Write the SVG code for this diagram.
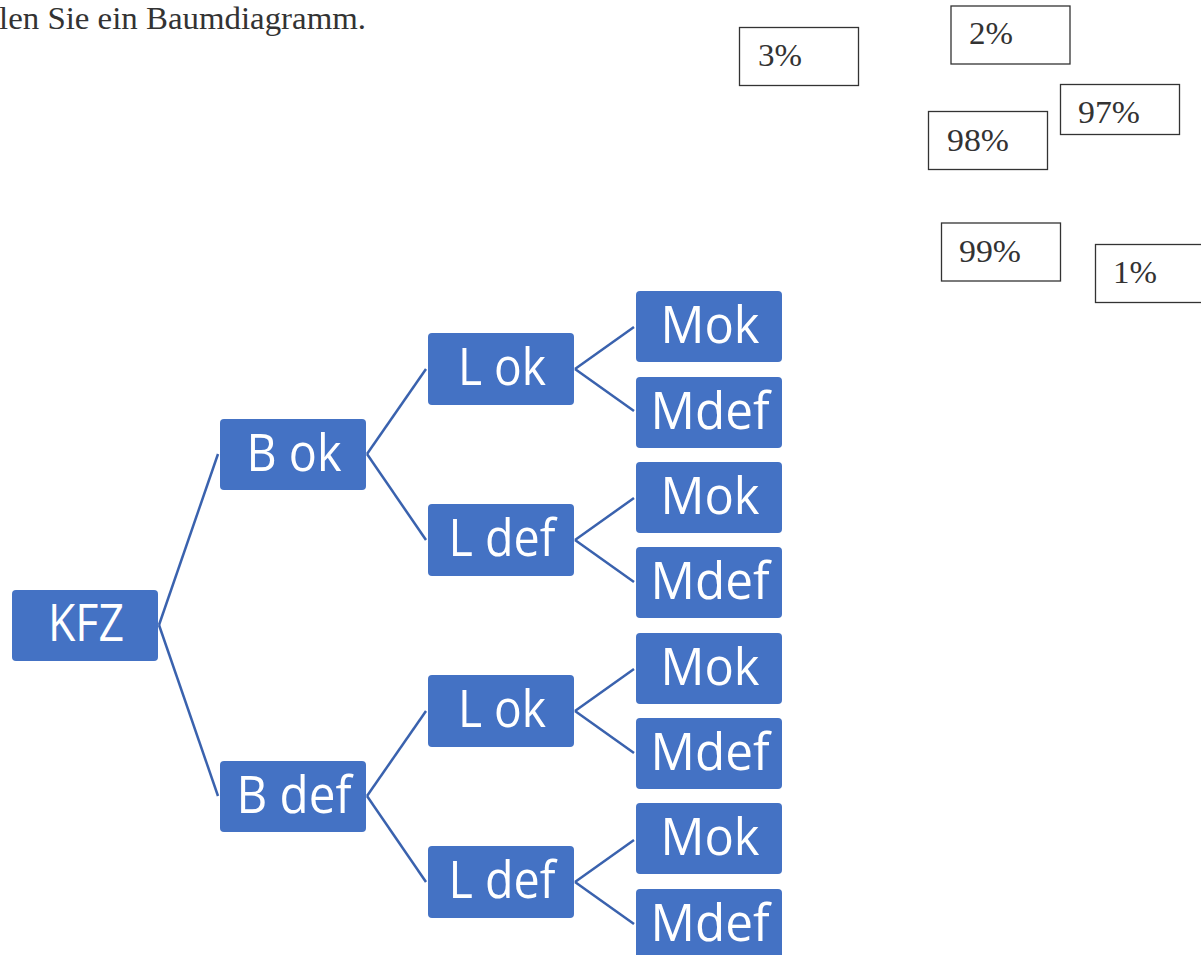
<svg xmlns="http://www.w3.org/2000/svg" width="1201" height="955" viewBox="0 0 1201 955">
<style>
.n rect{fill:#4472C4;}
.n text{fill:#fff;font-family:"Open Sans",sans-serif;font-size:51px;text-anchor:middle;}
.p rect{fill:#fff;stroke:#333;stroke-width:1.3;}
.p text{fill:#333;font-family:"Liberation Serif",serif;font-size:32px;}
.c line{stroke:#3A62AE;stroke-width:2.5;fill:none;}
</style>
<rect width="1201" height="955" fill="#fff"/>
<text x="-1" y="29" font-family="Liberation Serif, serif" font-size="32" fill="#333" textLength="367" lengthAdjust="spacingAndGlyphs">len Sie ein Baumdiagramm.</text>
<g id="pct3" class="p"><rect x="739.5" y="27.5" width="119" height="58"/><text x="758" y="66" textLength="44" lengthAdjust="spacingAndGlyphs">3%</text></g>
<g id="pct2" class="p"><rect x="951" y="6" width="119" height="58"/><text x="969" y="44" textLength="44" lengthAdjust="spacingAndGlyphs">2%</text></g>
<g id="pct97" class="p"><rect x="1060.5" y="84.5" width="119" height="50"/><text x="1078" y="123" textLength="62" lengthAdjust="spacingAndGlyphs">97%</text></g>
<g id="pct98" class="p"><rect x="928.5" y="111.5" width="119" height="58"/><text x="947" y="151" textLength="62" lengthAdjust="spacingAndGlyphs">98%</text></g>
<g id="pct99" class="p"><rect x="941.5" y="223" width="119" height="58"/><text x="959" y="262" textLength="62" lengthAdjust="spacingAndGlyphs">99%</text></g>
<g id="pct1" class="p"><rect x="1095.5" y="244.5" width="119" height="58"/><text x="1113" y="283" textLength="44" lengthAdjust="spacingAndGlyphs">1%</text></g>
<g id="connectors" class="c">
<line x1="159" y1="625" x2="218" y2="454"/>
<line x1="159" y1="625" x2="218" y2="796"/>
<line x1="367" y1="454" x2="426" y2="369"/>
<line x1="367" y1="454" x2="426" y2="540"/>
<line x1="367" y1="796" x2="426" y2="711"/>
<line x1="367" y1="796" x2="426" y2="882"/>
<line x1="575" y1="369" x2="634" y2="327"/>
<line x1="575" y1="369" x2="634" y2="411"/>
<line x1="575" y1="540" x2="634" y2="498"/>
<line x1="575" y1="540" x2="634" y2="582"/>
<line x1="575" y1="711" x2="634" y2="669"/>
<line x1="575" y1="711" x2="634" y2="753"/>
<line x1="575" y1="882" x2="634" y2="840"/>
<line x1="575" y1="882" x2="634" y2="924"/>
</g>
<g id="kfz" class="n"><rect x="12" y="590" width="146" height="71" rx="4"/><text x="86" y="641" textLength="76" lengthAdjust="spacingAndGlyphs">KFZ</text></g>
<g id="bok" class="n"><rect x="220" y="419" width="146" height="71" rx="4"/><text x="294" y="471" textLength="95" lengthAdjust="spacingAndGlyphs">B ok</text></g>
<g id="bdef" class="n"><rect x="220" y="761" width="146" height="71" rx="4"/><text x="294" y="813" textLength="115" lengthAdjust="spacingAndGlyphs">B def</text></g>
<g id="lok1" class="n"><rect x="428" y="333" width="146" height="72" rx="4"/><text x="502" y="385" textLength="88" lengthAdjust="spacingAndGlyphs">L ok</text></g>
<g id="ldef1" class="n"><rect x="428" y="504" width="146" height="72" rx="4"/><text x="502" y="556" textLength="107" lengthAdjust="spacingAndGlyphs">L def</text></g>
<g id="lok2" class="n"><rect x="428" y="675" width="146" height="72" rx="4"/><text x="502" y="727" textLength="88" lengthAdjust="spacingAndGlyphs">L ok</text></g>
<g id="ldef2" class="n"><rect x="428" y="846" width="146" height="72" rx="4"/><text x="502" y="898" textLength="107" lengthAdjust="spacingAndGlyphs">L def</text></g>
<g id="mok1" class="n"><rect x="636" y="291" width="146" height="71" rx="4"/><text x="710" y="343" textLength="99" lengthAdjust="spacingAndGlyphs">Mok</text></g>
<g id="mdef1" class="n"><rect x="636" y="377" width="146" height="71" rx="4"/><text x="710" y="429" textLength="119" lengthAdjust="spacingAndGlyphs">Mdef</text></g>
<g id="mok2" class="n"><rect x="636" y="462" width="146" height="71" rx="4"/><text x="710" y="514" textLength="99" lengthAdjust="spacingAndGlyphs">Mok</text></g>
<g id="mdef2" class="n"><rect x="636" y="547" width="146" height="71" rx="4"/><text x="710" y="599" textLength="119" lengthAdjust="spacingAndGlyphs">Mdef</text></g>
<g id="mok3" class="n"><rect x="636" y="633" width="146" height="71" rx="4"/><text x="710" y="685" textLength="99" lengthAdjust="spacingAndGlyphs">Mok</text></g>
<g id="mdef3" class="n"><rect x="636" y="718" width="146" height="71" rx="4"/><text x="710" y="770" textLength="119" lengthAdjust="spacingAndGlyphs">Mdef</text></g>
<g id="mok4" class="n"><rect x="636" y="803" width="146" height="71" rx="4"/><text x="710" y="855" textLength="99" lengthAdjust="spacingAndGlyphs">Mok</text></g>
<g id="mdef4" class="n"><rect x="636" y="889" width="146" height="71" rx="4"/><text x="710" y="941" textLength="119" lengthAdjust="spacingAndGlyphs">Mdef</text></g>
</svg>
